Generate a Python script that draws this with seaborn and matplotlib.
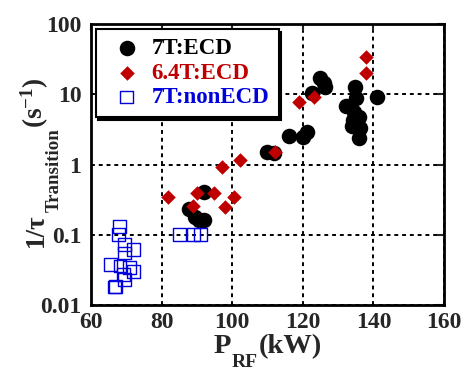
import matplotlib
matplotlib.use("Agg")
import matplotlib.pyplot as plt
import seaborn as sns
import pandas as pd
from matplotlib.ticker import FixedLocator, FixedFormatter, NullLocator

# ---- data ----
ecd7_p = [109.8, 111.7, 116.0, 120.1, 121.2, 122.5, 125.0, 125.9, 126.4,
          134.9, 135.0, 140.9, 132.1, 134.4, 135.8, 134.2, 133.8, 136.3, 136.0,
          87.8, 89.5, 90.6, 92.0, 91.9]
ecd7_r = [1.53, 1.46, 2.55, 2.45, 2.93, 10.4, 17.0, 14.5, 12.8,
          12.8, 8.9, 9.1, 6.8, 5.7, 4.7, 4.3, 3.5, 3.3, 2.4,
          0.23, 0.178, 0.162, 0.164, 0.41]
ecd64_p = [81.9, 89.0, 90.0, 94.9, 98.0, 100.4, 97.1, 102.1, 112.2, 119.0, 123.1, 138.0, 138.0]
ecd64_r = [0.344, 0.258, 0.39, 0.39, 0.253, 0.344, 0.94, 1.17, 1.49, 7.8, 9.3, 20.5, 33.8]
non7_p = [68.0, 67.7, 69.6, 69.4, 72.0, 65.6, 68.2, 70.9, 72.0, 69.1, 69.4, 66.6, 67.0,
          85.0, 89.0, 91.1]
non7_r = [0.13, 0.1, 0.072, 0.055, 0.062, 0.038, 0.036, 0.034, 0.030, 0.027, 0.023, 0.018, 0.0185,
          0.1, 0.1, 0.1]

labels = ["7T:ECD", "6.4T:ECD", "7T:nonECD"]
xticks = [60, 80, 100, 120, 140, 160]
yticks = [0.01, 0.1, 1, 10, 100]
ytick_labels = ["0.01", "0.1", "1", "10", "100"]
xlabel_parts = ["P", "RF", "(kW)"]
ylabel_parts = ["1/τ", "Transition", r"$\mathrm{(s^{-1})}$"]

sns.set_style("white")
plt.rcParams["font.family"] = ["Liberation Serif", "DejaVu Serif"]
plt.rcParams["font.weight"] = "bold"
plt.rcParams["mathtext.fontset"] = "custom"
plt.rcParams["mathtext.rm"] = "Liberation Serif:bold"
plt.rcParams["mathtext.it"] = "Liberation Serif:bold"
plt.rcParams["mathtext.bf"] = "Liberation Serif:bold"

W, H = 468, 370
fig = plt.figure(figsize=(W / 100, H / 100), dpi=100)
ax = fig.add_axes([91/W, 1-305/H, (444-91)/W, (305-24.3)/H])

df1 = pd.DataFrame({"P": ecd7_p, "R": ecd7_r})
df2 = pd.DataFrame({"P": ecd64_p, "R": ecd64_r})
df3 = pd.DataFrame({"P": non7_p, "R": non7_r})

sns.scatterplot(data=df1, x="P", y="R", ax=ax, marker="o", s=125, color="black",
                edgecolor="black", linewidth=0, label=labels[0], zorder=3)
sns.scatterplot(data=df2, x="P", y="R", ax=ax, marker="D", s=55, color="#c00000",
                edgecolor="#c00000", linewidth=0, label=labels[1], zorder=4)
sns.scatterplot(data=df3, x="P", y="R", ax=ax, marker="s", s=85, facecolor="none",
                edgecolor="#0000dd", linewidth=1.0, label=labels[2], zorder=5)

ax.set_yscale("log")
ax.set_xlim(60, 160)
ax.set_ylim(0.01, 100)
ax.xaxis.set_major_locator(FixedLocator(xticks))
ax.yaxis.set_major_locator(FixedLocator(yticks))
ax.yaxis.set_major_formatter(FixedFormatter(ytick_labels))
ax.yaxis.set_minor_locator(NullLocator())
ax.tick_params(axis="both", which="major", direction="in", length=5, width=1.5,
               top=True, right=True, labelsize=17)
ax.tick_params(axis="x", pad=5)
ax.tick_params(axis="y", pad=7)
for lab in ax.get_xticklabels() + ax.get_yticklabels():
    lab.set_fontweight("bold")

ax.grid(True, which="major", color="black", linestyle=(0, (2, 2)), linewidth=1.4)
ax.set_axisbelow(True)
for sp in ax.spines.values():
    sp.set_visible(True)
    sp.set_color("black")
    sp.set_linewidth(2)
ax.set_xlabel("")
ax.set_ylabel("")

leg = ax.legend(loc="upper left", bbox_to_anchor=(0.0, 1.0), borderaxespad=0.2,
                frameon=True, fancybox=False, shadow={"color": "black", "alpha": 1},
                prop={"family": "Liberation Serif", "weight": "bold", "size": 16.5},
                handletextpad=0.15, borderpad=0.4, labelspacing=0.15, handlelength=1.9)
leg.get_frame().set_edgecolor("black")
leg.get_frame().set_linewidth(1.5)
leg.get_frame().set_alpha(1)
for t, c in zip(leg.get_texts(), ["black", "#c00000", "#0000dd"]):
    t.set_color(c)

# ---- axis labels built from pieces (subscripts dropped far, as in the reference) ----
fig.canvas.draw()
renderer = fig.canvas.get_renderer()

def px(x, y):
    return x / W, 1 - y / H

# x label: P_RF(kW)
x0 = 214.0
specs = [(xlabel_parts[0], 20.5, 353), (xlabel_parts[1], 14.0, 367), (xlabel_parts[2], 20.5, 353)]
for txt, fs, yb in specs:
    t = fig.text(*px(x0, yb), txt, fontsize=fs, fontweight="bold",
                 ha="left", va="baseline")
    x0 += t.get_window_extent(renderer).width + 0.5

# y label: 1/tau_Transition (s^-1), rotated
y0 = 247.0
specs = [(ylabel_parts[0], 19.5, 43), (ylabel_parts[1], 13.6, 59), (ylabel_parts[2], 19.5, 43)]
for txt, fs, xb in specs:
    t = fig.text(*px(xb, y0), txt, fontsize=fs, fontweight="bold", rotation=90,
                 rotation_mode="anchor", ha="left", va="baseline")
    y0 -= t.get_window_extent(renderer).height + 1.0

fig.savefig("out.png", dpi=100)
